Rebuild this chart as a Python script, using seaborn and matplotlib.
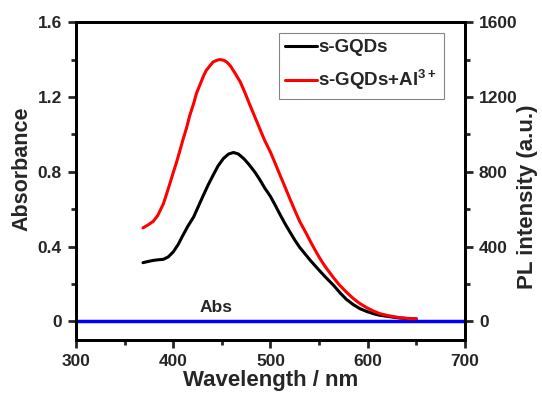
import numpy as np
import pandas as pd
import matplotlib
matplotlib.use("Agg")
import matplotlib.pyplot as plt
import seaborn as sns
from matplotlib.ticker import MultipleLocator, FuncFormatter
from matplotlib.lines import Line2D

# ---- data ----
wl_black = [369, 374, 379.5, 384, 390, 395, 400, 405, 410, 415, 421, 426, 431, 436,
            441, 446, 451.5, 457, 462, 467, 473, 478, 484, 489, 494, 500, 505, 510,
            515, 520, 525, 530, 536, 541, 546, 551, 556, 565, 572, 578, 585, 592,
            599, 606, 612, 620, 627, 633, 641, 650]
pl_black = [314, 320, 326, 329, 332, 345, 371, 410, 460, 508, 558, 616, 674, 730,
            781, 830, 870, 895, 903, 895, 868, 838, 798, 758, 714, 668, 620, 570,
            522, 478, 435, 396, 358, 326, 297, 268, 240, 192, 150, 118, 90, 68,
            53, 41, 33, 27, 22, 18, 15, 13]
wl_red = [369, 374, 379.5, 384, 390, 395, 400, 404, 407, 410, 414, 417, 421, 424,
          428, 431, 434, 438, 441, 445, 448, 452, 455, 459, 463, 469, 474, 479,
          484, 489, 494, 500, 505, 510, 515, 520, 525, 530, 536, 541, 546, 551,
          556, 565, 571, 578, 585, 592, 599, 606, 612, 620, 627, 633, 641, 650]
pl_red = [500, 515, 535, 565, 629, 710, 794, 860, 915, 970, 1039, 1100, 1164, 1220,
          1271, 1310, 1342, 1368, 1387, 1396, 1400, 1396, 1387, 1365, 1332, 1280, 1220, 1155,
          1093, 1030, 968, 905, 843, 780, 718, 655, 594, 535, 478, 428, 380, 335,
          295, 232, 194, 157, 123, 95, 73, 55, 42, 32, 25, 20, 16, 14]
wl_abs = [300, 700]
abs_vals = [0, 0]
labels = ["s-GQDs", "s-GQDs+Al$^{\\mathbf{3+}}$"]

sns.set_style("ticks")
plt.rcParams['font.family'] = ['Liberation Sans', 'DejaVu Sans']
plt.rcParams['font.weight'] = 'bold'
plt.rcParams['mathtext.fontset'] = 'custom'
plt.rcParams['mathtext.rm'] = 'Liberation Sans:bold'
plt.rcParams['mathtext.bf'] = 'Liberation Sans:bold'

df = pd.concat([
    pd.DataFrame({"wl": wl_black, "pl": pl_black, "s": labels[0]}),
    pd.DataFrame({"wl": wl_red, "pl": pl_red, "s": labels[1]}),
])

fig = plt.figure(figsize=(5.42, 3.95), dpi=100)
ax = fig.add_axes([0.140, 0.139, 0.718, 0.805])
ax2 = ax.twinx()

sns.lineplot(x=wl_abs, y=abs_vals, ax=ax, color="#0000ff", lw=2.5)
sns.lineplot(data=df, x="wl", y="pl", hue="s", palette=["black", "#ff0000"],
             ax=ax2, lw=2.2, legend=False, sort=False)

ax.set_xlim(300, 700)
ax.set_ylim(-0.1, 1.6)
ax2.set_ylim(-100, 1600)

ax.xaxis.set_major_locator(MultipleLocator(100))
ax.xaxis.set_minor_locator(MultipleLocator(50))
ax.yaxis.set_major_locator(MultipleLocator(0.4))
ax.yaxis.set_minor_locator(MultipleLocator(0.2))
ax2.yaxis.set_major_locator(MultipleLocator(400))
ax2.yaxis.set_minor_locator(MultipleLocator(200))
ax.yaxis.set_major_formatter(FuncFormatter(lambda v, p: "0" if abs(v) < 1e-9 else f"{v:.1f}"))

for a in (ax, ax2):
    for sp in a.spines.values():
        sp.set_linewidth(2)
        sp.set_color("black")
    a.tick_params(which="major", direction="out", length=6, width=2, labelsize=12.5, pad=4)
    a.tick_params(which="minor", direction="out", length=3.5, width=2)
ax.tick_params(top=False, right=False, which="both")
ax2.tick_params(which="both", right=True, left=False)

ax.set_xlabel("Wavelength / nm", fontsize=16, fontweight="bold", labelpad=1)
ax.set_ylabel("Absorbance", fontsize=15.5, fontweight="bold")
ax2.set_ylabel("PL intensity (a.u.)", fontsize=16, fontweight="bold")
ax.yaxis.set_label_coords(-0.111, 0.539)
ax2.yaxis.set_label_coords(1.134, 0.45)

ax.text(444, 0.075, "Abs", fontsize=12.5, fontweight="bold", ha="center", va="center")

handles = [Line2D([], [], color="black", lw=2.2), Line2D([], [], color="#ff0000", lw=2.2)]
leg = ax2.legend(handles, labels, loc="upper right", bbox_to_anchor=(0.945, 0.967),
                 fontsize=13.5, frameon=True, fancybox=False, handlelength=1.7,
                 handletextpad=0.05, borderpad=0.35, labelspacing=0.6, borderaxespad=0)
leg.get_frame().set_edgecolor("#666666")
leg.get_frame().set_linewidth(0.8)

fig.savefig("out.png", dpi=100)
